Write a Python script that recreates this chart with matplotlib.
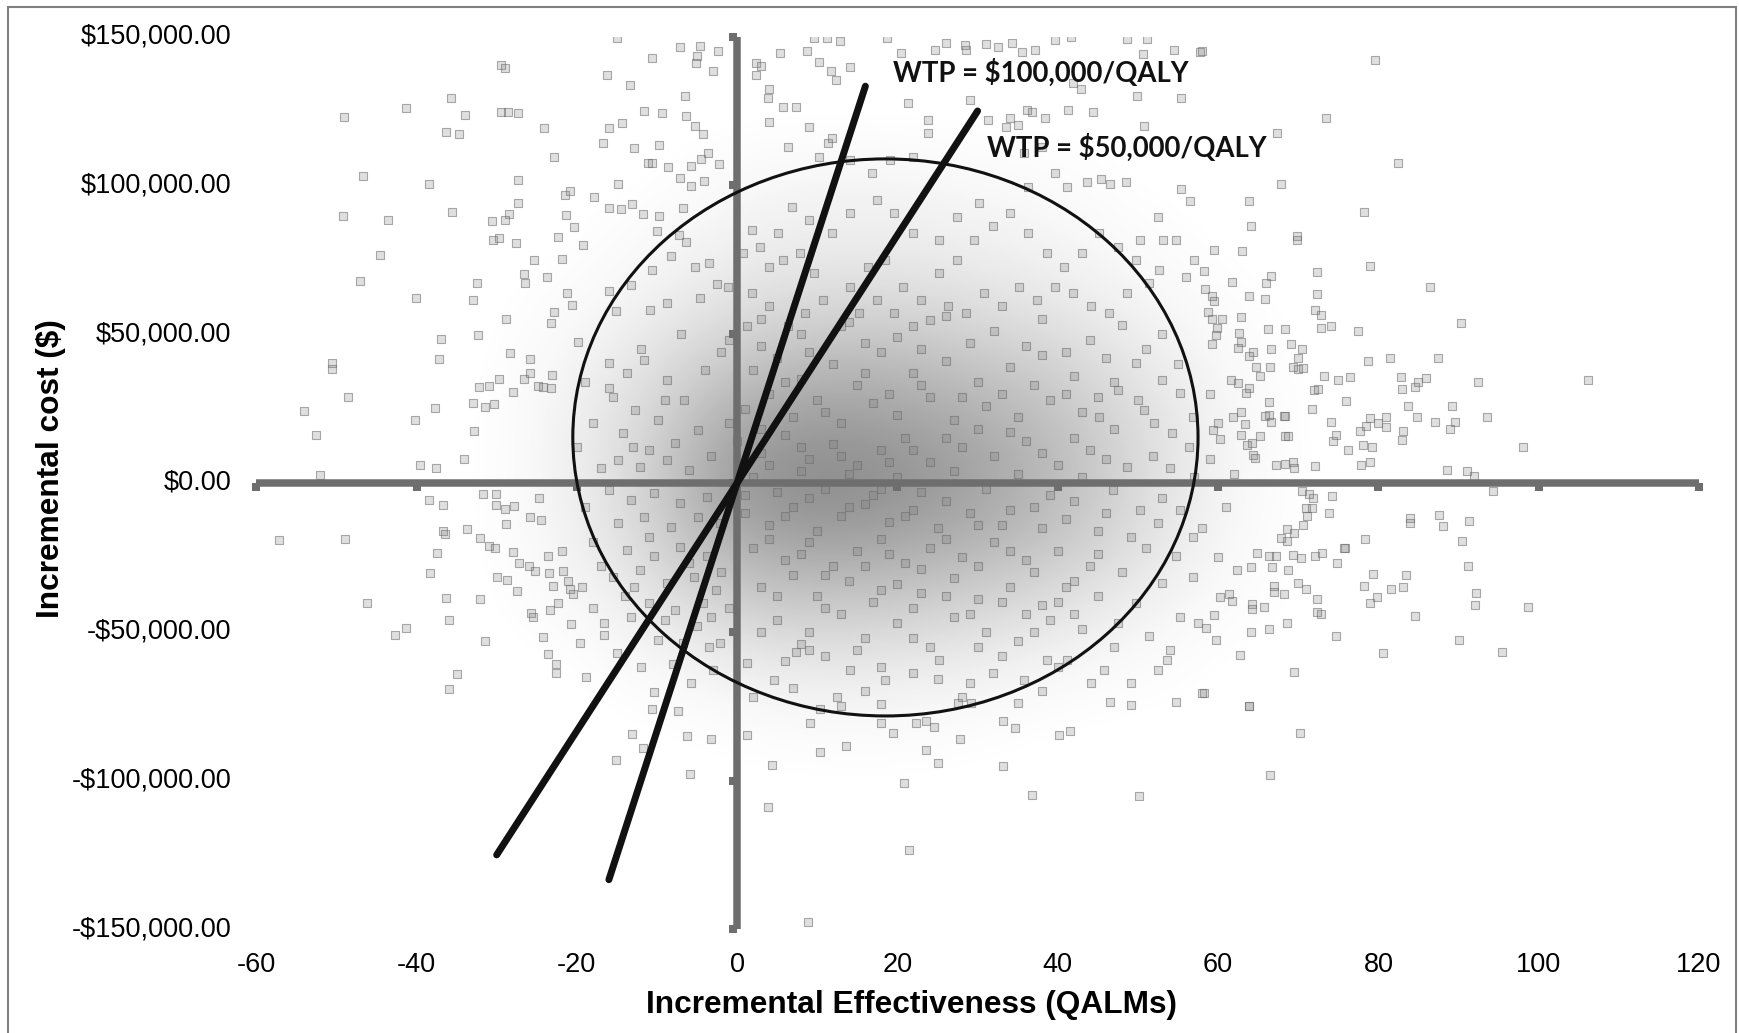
import matplotlib
matplotlib.use("Agg")
import matplotlib.pyplot as plt
import matplotlib.transforms as mtransforms
from matplotlib.patches import Ellipse, Rectangle
from matplotlib.colors import LinearSegmentedColormap
import numpy as np

# bootstrap ICER replicates: (QALMs, cost in $ thousands)
upper_left = [(-29.5,140.3),(-29.0,139.6),(-35.7,129.4),(-41.3,126.1),(-49.0,123.1),(-33.9,123.6),(-29.5,124.6),
    (-28.6,124.6),(-27.4,124.2),(-36.3,118.0),(-34.7,117.4),(-24.1,119.2),(-22.9,109.4),(-46.7,103.2),(-38.4,100.4),
    (-27.4,101.7),(-21.5,96.8),(-20.8,98.0),(-17.8,96.2),(-27.4,94.1),(-28.5,90.5),(-29.0,88.4),(-30.6,87.9),
    (-35.6,90.9),(-49.2,89.7),(-43.5,88.3),(-21.4,90.1),(-20.4,86.0),(-22.3,82.5),(-30.4,81.8),(-29.7,82.3),
    (-27.6,80.6),(-19.2,79.9),(-44.6,76.5),(-25.3,74.8),(-21.8,75.2),(-47.0,67.8),(-32.5,67.1),(-32.9,61.6),
    (-26.6,70.1),(-26.5,67.1),(-23.7,69.2),(-40.1,62.1),(-21.2,63.8),(-20.6,59.8),(-22.9,57.4),(-23.2,53.7),
    (-28.8,55.0),(-36.9,48.4),(-32.3,49.6),(-19.9,47.5)]

mid_left = [(-50.5,40.4),(-50.6,38.2),(-37.2,41.6),(-25.9,41.6),(-28.3,43.8),(-48.5,28.8),(-54.0,24.1),(-52.6,16.0),
    (-37.7,25.1),(-40.2,21.2),(-32.8,17.3),(-32.2,32.2),(-30.9,32.5),(-29.7,35.0),(-33.0,26.8),(-31.5,25.4),
    (-30.3,26.4),(-27.9,30.7),(-26.6,35.0),(-25.9,36.9),(-23.1,36.3),(-24.8,32.6),(-24.2,32.2),(-23.2,31.8),
    (-39.6,6.1),(-37.6,5.0),(-34.1,8.1),(-52.0,2.7)]

lower_left = [(-31.7,-3.6),(-30.1,-3.6),(-38.4,-5.8),(-36.7,-7.5),(-30.1,-7.5),(-28.9,-8.6),(-27.8,-7.8),(-28.8,-13.8),
    (-25.9,-11.3),(-24.5,-12.4),(-24.7,-4.9),(-36.7,-16.3),(-36.5,-17.1),(-33.7,-15.6),(-32.1,-18.5),(-30.9,-21.2),
    (-30.2,-21.7),(-37.4,-23.6),(-27.9,-23.2),(-27.2,-27.0),(-26.0,-27.8),(-25.2,-29.5),(-23.6,-24.4),(-21.8,-22.8),
    (-23.5,-30.1),(-21.7,-29.6),(-38.3,-30.3),(-57.1,-19.1),(-48.9,-18.8),(-29.9,-31.5),(-28.7,-32.6),(-27.5,-36.3),
    (-23.0,-34.5),(-21.1,-33.1),(-20.8,-35.7),(-19.4,-35.0),(-20.5,-37.4),(-46.2,-40.4),(-36.3,-38.5),(-32.1,-38.9),
    (-42.7,-51.1),(-41.3,-48.8),(-36.0,-46.1),(-25.7,-43.8),(-25.5,-45.1),(-23.3,-42.7),(-22.4,-40.4),(-20.7,-47.4),
    (-19.6,-53.9),(-24.2,-51.7),(-31.4,-53.1),(-23.6,-57.4),(-22.6,-61.0),(-22.6,-63.9),(-34.9,-64.1),(-35.9,-69.2),
    (-18.9,-65.1)]

near_left = [(-16.0,40.2),(-13.8,36.9),(-11.6,41.3),(-8.8,34.6),(-15.5,29.0),(-12.7,24.5),(-9.9,21.2),(-6.6,27.9),
    (-14.3,16.7),(-11.0,11.1),(-7.7,13.3),(-4.9,17.8),(-14.9,7.7),(-12.1,5.5),(-8.8,7.7),(-6.0,4.4),(-3.2,8.9),
    (-16.0,-2.3),(-13.2,-5.7),(-10.4,-3.5),(-7.1,-6.8),(-3.8,-4.6),(-14.9,-13.5),(-11.6,-11.3),(-8.2,-14.7),
    (-4.9,-11.3),(-2.1,-13.5),(-13.8,-22.5),(-10.4,-24.7),(-7.1,-21.4),(-3.8,-24.7),(-15.5,-31.5),(-12.1,-29.2),
    (-8.8,-33.7),(-5.4,-31.5),(-2.6,-36.0),(-11.0,-40.4),(-7.7,-42.7),(-4.3,-40.4),(-16.6,-47.1),(-16.6,-51.1),
    (-13.2,-44.9),(-12.9,-34.8),(-9.9,-52.7),(-10.4,-70.1),(-6.8,-53.9),(-5.7,-67.3),(-3.5,-55.0),(-3.2,-44.9),
    (-2.1,-53.9)]

top_band = [(-15.0,149.5),(-7.1,146.5),(-4.6,147.0),(-2.4,145.2),(-5.1,141.2),(-5.0,143.6),(-10.6,142.8),(-3.0,138.6),
    (-16.2,137.1),(-13.4,133.6),(-6.5,130.2),(-11.6,125.0),(-9.4,124.2),(-6.4,123.3),(-14.4,120.9),(-16.0,119.2),
    (-16.7,114.1),(-5.3,120.1),(-4.3,117.1),(-12.9,112.6),(-9.7,113.7),(-11.1,107.4),(-10.6,107.6),(-8.6,106.3),
    (-5.7,106.6),(-3.6,110.8),(-2.2,107.2),(2.4,141.0),(3.0,140.2),(5.3,144.4),(8.7,145.2),(9.6,149.5),(11.2,149.5),
    (12.8,148.6),(10.2,141.5),(11.7,138.4),(12.3,135.3),(14.1,139.9),(18.7,149.5),(20.5,144.4),(24.7,145.5),
    (26.0,147.7),(28.4,147.1),(28.6,145.4),(31.0,147.6),(32.6,146.6),(34.3,147.7),(39.7,148.9),(41.7,149.8),
    (48.6,149.3),(51.1,149.2),(54.5,145.5),(57.8,144.9),(35.5,144.8),(37.2,145.5),(50.6,144.1),(41.9,134.3),
    (42.9,132.3),(49.9,130.2),(55.4,129.2),(50.7,120.1),(36.2,125.2),(36.8,124.6),(41.3,125.4),(44.4,124.6),
    (34.0,122.7),(35.0,120.3),(38.4,122.7),(45.4,102.1),(46.5,100.4),(48.5,101.3),(55.4,98.9),(56.5,94.7),
    (53.1,81.6),(52.6,71.4),(56.0,69.3)]

near_axis_up = [(-14.9,100.4),(-16.0,92.3),(-14.5,91.9),(-13.1,93.8),(-11.8,90.4),(-9.8,89.6),(-7.1,102.4),(-5.7,99.8),
    (-4.1,101.6),(-4.5,108.8),(-6.8,92.4),(-10.0,84.6),(-7.3,83.3),(-6.4,81.0),(-8.2,76.3),(-10.6,71.4),(-13.3,66.4),
    (-16.0,64.6),(-15.1,57.8),(-10.9,58.2),(-8.7,60.4),(-4.6,62.1),(-2.5,67.0),(-1.1,65.8),(-3.5,73.8),(-5.2,72.7)]

inner_upper = [(2.4,137.1),(4.0,132.3),(3.8,129.2),(5.7,126.2),(7.4,126.5),(4.0,121.4),(6.3,113.0),(9.0,119.7),
    (11.3,114.2),(10.2,109.7),(11.8,115.8),(14.1,108.6),(16.8,104.1),(19.1,108.6),(21.9,109.7),(23.8,122.0),
    (23.8,117.5),(21.3,127.6),(29.1,128.7),(31.3,122.0),(33.5,119.7),(35.8,110.8),(38.0,113.0),(39.7,104.1),
    (41.1,99.6),(43.6,101.3),(36.3,99.6),(30.2,94.0),(27.4,89.5),(25.2,81.7),(21.9,83.9),(19.6,90.6),(17.4,95.1),
    (14.1,90.6),(11.8,83.9),(9.0,88.4),(6.8,92.9),(5.1,83.9),(2.9,79.4),(1.8,85.0),(0.7,77.2),(4.0,72.7),(5.7,74.9),
    (7.9,77.2),(9.6,70.5),(14.1,66.0),(16.3,72.7),(18.5,74.9),(20.7,66.0),(23.0,61.5),(25.2,70.5),(27.4,74.9),
    (29.6,81.7),(31.9,86.2),(34.1,90.6),(36.3,83.9),(38.6,77.2),(40.8,72.7),(43.0,77.2),(45.2,83.9),(47.5,79.4),
    (49.7,74.9),(51.4,67.1),(48.6,63.7),(46.4,57.0),(44.1,59.3),(41.9,63.7),(39.7,66.0),(37.4,61.5),(35.2,66.0),
    (33.0,59.3),(30.8,63.7),(28.5,57.0),(26.3,59.3),(24.1,54.8),(21.9,52.6),(19.6,57.0),(17.4,61.5),(15.2,57.0),
    (13.0,52.6),(10.7,61.5),(8.5,57.0),(6.3,52.6),(4.0,59.3),(1.8,63.7),(1.2,52.6),(52.5,89.5),(54.7,81.7),
    (57.0,74.9),(50.3,81.7)]

upper_right = [(58.0,145.2),(79.6,142.2),(73.5,122.8),(67.4,117.7),(82.5,107.5),(67.8,100.6),(63.9,94.8),(78.2,91.1),
    (64.1,86.4),(69.9,83.0),(69.9,81.7),(59.5,78.4),(63.0,77.8),(79.0,72.9),(58.3,71.3),(72.3,71.0),(66.6,69.7),
    (66.0,67.1),(61.8,67.4),(86.5,65.8),(58.4,65.3),(59.3,62.9),(59.5,61.0),(63.9,62.7),(65.9,61.7),(72.3,63.5),
    (58.8,57.4),(59.2,55.0),(60.5,55.1),(62.9,55.9),(72.1,58.1),(72.8,56.4),(90.3,53.7),(66.2,51.9),(68.3,51.8),
    (72.9,52.2),(74.1,52.6),(77.4,51.2),(59.9,52.0),(59.7,49.7),(62.6,50.3),(62.8,47.5),(59.3,46.7),(62.5,45.4),
    (64.4,43.9),(63.9,42.5),(66.6,44.9),(69.1,46.7),(70.5,44.9),(70.0,42.1),(78.7,40.9),(81.4,41.9),(87.4,41.9),
    (64.7,38.8),(66.5,39.1),(65.2,35.9),(69.3,39.1),(70.0,38.2),(70.6,38.7),(73.2,36.1),(75.0,34.7),(76.4,35.7),
    (82.8,35.7),(82.9,31.5),(84.6,32.4),(85.0,34.0),(85.9,35.4),(92.4,34.0),(106.1,34.6),(61.6,34.6),(62.5,33.5),
    (63.9,31.8),(63.5,30.2),(72.0,31.3),(72.5,31.5),(66.4,27.1),(71.7,25.0),(75.9,27.5),(83.7,25.7),(89.2,26.0),
    (93.5,22.3),(61.9,22.2),(62.9,23.8),(63.3,19.8),(65.8,22.5),(66.3,23.0),(66.6,20.6),(68.2,22.5),(68.4,22.6),
    (74.1,20.4),(77.7,17.6),(78.5,19.3),(79.0,21.7),(79.9,20.1),(81.0,22.3),(81.0,18.7),(83.1,17.6),(82.9,14.6),
    (84.8,22.0),(87.1,20.5),(89.5,20.4),(88.9,18.1),(74.4,14.1),(74.7,16.1),(76.2,11.1),(78.1,12.6),(79.2,12.2),
    (77.8,6.0),(78.9,7.0),(98.1,12.1),(88.5,4.5),(91.0,4.1),(91.9,2.5),(62.9,16.2),(65.2,15.8),(68.3,15.8),
    (68.7,15.8),(60.3,14.7),(59.4,17.7),(63.6,12.8),(64.2,13.4),(64.4,9.4),(64.6,8.3),(67.2,6.1),(68.4,6.3),
    (69.3,6.9),(69.5,5.1),(72.1,5.6)]

lower_right = [(94.3,-2.7),(74.2,-4.4),(73.8,-10.2),(70.5,-2.6),(71.3,-3.8),(71.8,-5.1),(71.0,-8.3),(71.7,-8.3),
    (71.1,-11.0),(70.6,-14.1),(69.5,-16.7),(68.6,-15.6),(68.6,-19.5),(67.9,-18.4),(78.3,-18.8),(75.8,-21.7),
    (74.9,-26.9),(84.0,-11.9),(83.9,-13.3),(87.6,-10.9),(88.0,-14.4),(91.3,-12.7),(90.4,-19.6),(91.2,-27.9),
    (79.3,-30.5),(78.2,-34.5),(81.6,-35.6),(83.1,-34.8),(83.4,-30.9),(79.8,-38.2),(79.0,-40.3),(92.2,-37.1),
    (92.1,-41.1),(98.7,-41.8),(84.6,-44.7),(72.4,-39.0),(72.3,-43.3),(72.9,-44.0),(70.0,-33.5),(71.0,-35.6),
    (74.7,-51.3),(90.0,-52.7),(80.6,-57.2),(95.4,-56.8),(68.6,-46.9),(66.3,-49.2),(64.1,-50.2),(59.7,-52.7),
    (62.7,-57.9),(69.5,-63.4),(58.3,-70.7),(63.8,-74.9),(70.2,-84.1),(66.5,-98.3),(65.7,-41.8),(64.2,-40.6),
    (64.2,-42.4),(59.5,-44.4),(58.5,-48.8),(64.1,-28.3),(66.7,-28.3),(68.7,-29.4),(62.3,-29.3),(64.9,-23.6),
    (66.3,-24.7),(67.2,-24.6),(69.3,-24.3),(70.3,-25.1),(72.1,-24.6),(73.0,-23.4),(75.7,-21.7),(67.0,-34.5),
    (68.2,-37.4),(67.0,-36.7),(61.4,-37.3),(60.2,-38.2),(61.7,-39.6)]

near_right = [(49.7,40.2),(53.0,34.6),(55.3,30.1),(56.9,22.3),(54.2,16.7),(51.9,8.9),(56.4,12.2),(55.3,-9.1),
    (56.9,-18.0),(54.7,-24.7),(53.0,-33.7),(49.7,-40.4),(47.5,-47.1),(56.9,-31.5),(52.5,-13.5),(49.1,-18.0),
    (50.3,-9.1),(46.9,-2.3),(48.6,5.5),(50.8,24.5),(47.5,31.3),(45.2,22.3)]

bottom_band = [(-10.6,-76.1),(-7.4,-76.8),(-13.1,-84.5),(-11.7,-89.2),(-15.1,-93.2),(-6.2,-85.0),(-3.2,-85.9),
    (-5.9,-97.8),(1.2,-84.8),(4.4,-94.7),(3.8,-108.8),(10.4,-90.3),(13.6,-88.4),(9.1,-80.8),(10.3,-76.1),
    (13.0,-74.9),(18.0,-74.3),(17.9,-80.8),(19.5,-84.1),(22.3,-80.8),(23.6,-80.1),(24.5,-81.9),(23.6,-89.9),
    (25.1,-94.2),(20.8,-100.7),(27.8,-85.9),(27.5,-74.0),(29.2,-74.0),(33.2,-79.9),(34.7,-82.3),(33.2,-95.0),
    (35.0,-74.0),(36.8,-104.8),(40.2,-84.8),(41.5,-83.4),(46.5,-73.6),(49.1,-74.6),(50.1,-105.3),(54.8,-73.5),
    (63.8,-74.9),(21.5,-123.5),(8.8,-147.7),(1.2,-60.6),(4.6,-66.2),(7.4,-56.7),(9.0,-56.1),(14.1,-62.8),
    (12.4,-71.8),(18.5,-66.2),(21.9,-64.0),(25.2,-59.5),(29.1,-67.3),(31.9,-64.0),(35.8,-66.2),(38.6,-59.5),
    (41.1,-59.5),(44.1,-67.3),(45.8,-62.8),(49.1,-67.3),(53.6,-59.5),(52.5,-62.8),(58.0,-70.7),(51.4,-51.6),
    (55.3,-44.9),(57.5,-47.1)]

core = [(2,38),(5,42),(8,35),(12,40),(15,33),(18,44),(22,37),(26,41),(30,34),(34,39),(38,43),(42,36),
    (1,25),(4,30),(7,22),(10,28),(13,20),(17,27),(20,23),(24,29),(27,21),(31,26),(35,22),(39,28),(43,24),(47,18),
    (0,14),(3,10),(6,16),(9,8),(12,13),(15,6),(18,11),(21,15),(24,7),(28,12),(32,9),(36,14),(40,6),(44,11),
    (2,2),(5,-3),(8,4),(11,-2),(14,3),(17,-4),(20,2),(23,-3),(27,4),(31,-2),(35,3),(39,-4),(43,2),
    (1,-10),(4,-14),(7,-8),(10,-16),(13,-11),(16,-7),(19,-13),(22,-9),(25,-15),(29,-10),(33,-14),(37,-8),(41,-12),
    (45,-16),(2,-22),(6,-26),(9,-20),(12,-28),(15,-23),(18,-19),(21,-27),(24,-22),(28,-25),(32,-20),(36,-26),
    (40,-23),(44,-28),(3,-35),(7,-31),(10,-38),(14,-33),(17,-40),(20,-34),(23,-37),(27,-32),(30,-39),(34,-35),
    (38,-41),(42,-33),(5,-46),(9,-50),(13,-44),(16,-52),(20,-47),(24,-55),(27,-45),(31,-50),(35,-53),(39,-46),
    (43,-49),(6,-60),(11,-58),(18,-62),(25,-66),(33,-58),(40,-62),(-1,48),(3,55),(8,50),(14,54),(20,49),(26,56),
    (32,51),(38,55),(44,48),(48,53)]

ring = [(-18,20),(-17,5),(-19,-8),(-18,-20),(-16,32),(-13,12),(-11,-18),(-9,28),(-6,-27),(-4,38),(-2,-30),
    (-1,20),(-14,-38),(-9,-46),(-5,-48),(-1,-42),(-12,45),(-7,50),(-2,44),(3,46),(9,44),(16,47),(23,45),(29,47),
    (36,46),(41,44),(46,42),(51,45),(53,50),(55,40),(47,34),(50,28),(52,20),(54,5),(53,-5),(51,-22),(48,-30),
    (45,-38),(42,-44),(37,-50),(30,-55),(22,-52),(15,-56),(8,-54),(3,-50),(3,18),(6,34),(11,24),(16,37),(19,30),
    (23,33),(28,29),(33,30),(37,33),(41,30),(45,29),(4,6),(8,12),(13,9),(19,7),(22,11),(26,15),(30,18),(34,17),
    (38,10),(42,15),(46,8),(1,-4),(6,-11),(9,-5),(14,-8),(18,-2),(21,-11),(26,-6),(30,-14),(34,-9),(38,-15),
    (42,-6),(46,-10),(4,-19),(8,-24),(11,-31),(16,-28),(19,-24),(23,-29),(26,-19),(30,-28),(34,-23),(37,-30),
    (41,-35),(45,-24),(5,-38),(11,-42),(18,-36),(22,-42),(26,-38),(29,-44),(33,-40),(36,-44),(40,-40),(-19,34),
    (-17,-28),(-20,12),(-18,-42),(-15,-57),(-12,-62),(-8,-61),(-3,-63),(2,-72),(7,-69),(16,-70),(28,-72),
    (38,-70),(47,-55),(54,-56),(57,2),(58,-15),(59,30),(60,-25),(59,8),(61,-8),(62,3),(60,20)]

# shading of the overlapping cloud, read as opacity of the grey mass
cloud_x = [-30, -20, -10, 0, 10, 20, 30, 40, 50, 60, 70]
cloud_y = [120, 100, 80, 60, 40, 20, 0, -20, -40, -60, -80, -100]
cloud_level = [
    [0, 0,    0,    0,    0,    0,    0,    0,    0,    0,    0],
    [0, 0,    0,    0.05, 0.08, 0.08, 0.05, 0.03, 0,    0,    0],
    [0, 0,    0.05, 0.12, 0.15, 0.15, 0.12, 0.08, 0.03, 0,    0],
    [0, 0.03, 0.12, 0.25, 0.30, 0.30, 0.25, 0.18, 0.08, 0.02, 0],
    [0, 0.08, 0.25, 0.45, 0.55, 0.55, 0.45, 0.35, 0.18, 0.05, 0],
    [0, 0.12, 0.35, 0.70, 0.80, 0.75, 0.65, 0.50, 0.28, 0.08, 0],
    [0, 0.12, 0.40, 0.85, 0.95, 0.90, 0.75, 0.55, 0.30, 0.08, 0],
    [0, 0.10, 0.35, 0.65, 0.75, 0.70, 0.60, 0.45, 0.25, 0.06, 0],
    [0, 0.05, 0.20, 0.40, 0.45, 0.42, 0.35, 0.25, 0.12, 0.03, 0],
    [0, 0,    0.06, 0.15, 0.20, 0.18, 0.14, 0.08, 0.03, 0,    0],
    [0, 0,    0,    0.02, 0.04, 0.04, 0.02, 0,    0,    0,    0],
    [0, 0,    0,    0,    0,    0,    0,    0,    0,    0,    0],
]

# 95% confidence ellipse (centre, full width in QALMs, full height in $)
ell_center = (18.5, 15300)
ell_width = 78
ell_height = 187200

# willingness-to-pay thresholds ($/QALY) and their drawn half-range in QALMs
wtp_values = [100000, 50000]
wtp_reach = [16, 30]
wtp_labels = ["WTP = $100,000/QALY", "WTP = $50,000/QALY"]
wtp_label_pos = [(19.4, 137800), (31.2, 112500)]

x_ticks = [-60, -40, -20, 0, 20, 40, 60, 80, 100, 120]
y_ticks = [-150000, -100000, -50000, 0, 50000, 100000, 150000]

W, H = 1739, 1033
fig = plt.figure(figsize=(W / 100, H / 100), dpi=100)
ax = fig.add_axes([256.2 / W, 1 - 929.3 / H, (1699 - 256.2) / W, (929.3 - 36.6) / H])

cmap = LinearSegmentedColormap.from_list("cloud", [(0.47, 0.47, 0.47, 0.0), (0.47, 0.47, 0.47, 0.92)])
dx = (cloud_x[1] - cloud_x[0]) / 2
dy = (cloud_y[0] - cloud_y[1]) / 2 * 1000
ax.imshow(np.array(cloud_level), cmap=cmap, vmin=0, vmax=1, interpolation="bicubic", aspect="auto",
          extent=[cloud_x[0] - dx, cloud_x[-1] + dx, cloud_y[-1] * 1000 - dy, cloud_y[0] * 1000 + dy],
          zorder=1)

pts = np.array(upper_left + mid_left + lower_left + near_left + top_band + near_axis_up + inner_upper
               + upper_right + lower_right + near_right + bottom_band + core + ring, dtype=float)
ax.scatter(pts[:, 0], pts[:, 1] * 1000, marker="s", s=36,
           facecolors=[(0.5, 0.5, 0.5, 0.25)], edgecolors=[(0.42, 0.42, 0.42, 0.55)],
           linewidths=0.8, zorder=2)

ax.set_xlim(-60, 120)
ax.set_ylim(-150000, 150000)

# axes crossing at the origin, Excel style
axis_grey = "#6e6e6e"
for side in ["top", "right"]:
    ax.spines[side].set_visible(False)
for side in ["left", "bottom"]:
    ax.spines[side].set_position(("data", 0))
    ax.spines[side].set_linewidth(5.4)
    ax.spines[side].set_color(axis_grey)
    ax.spines[side].set_capstyle("butt")
ax.set_xticks(x_ticks)
ax.set_yticks(y_ticks)
ax.tick_params(axis="both", direction="out", length=6, width=5.8, color=axis_grey,
               labelbottom=False, labelleft=False)

tick_font = dict(family=["Liberation Sans", "DejaVu Sans"], fontsize=19.5, color="black")
bx = mtransforms.blended_transform_factory(ax.transData, ax.transAxes)
for v in x_ticks:
    ax.text(v, -0.040, str(v), transform=bx, ha="center", va="center", **tick_font)
by = mtransforms.blended_transform_factory(ax.transAxes, ax.transData)
for v in y_ticks:
    lab = f"${abs(v):,.2f}" if v >= 0 else f"-${abs(v):,.2f}"
    ax.text(-0.0171, v, lab, transform=by, ha="right", va="center", **tick_font)

ax.add_patch(Ellipse(ell_center, ell_width, ell_height, fill=False, ec="#111111", lw=2.2, zorder=4))

for wtp, reach in zip(wtp_values, wtp_reach):
    xs = np.array([-reach, reach], dtype=float)
    ax.plot(xs, xs * wtp / 12, color="#111111", lw=5.0, solid_capstyle="round", zorder=5)

for lab, (lx, ly) in zip(wtp_labels, wtp_label_pos):
    ax.text(lx, ly, lab, ha="left", va="center", fontsize=19.8, fontweight="bold",
            family=["Lato", "DejaVu Sans"], color="#111111", zorder=6)

title_font = dict(family=["Liberation Sans", "DejaVu Sans"], fontsize=22.8, fontweight="bold")
fig.text(912 / W, 1 - 1005 / H, "Incremental Effectiveness (QALMs)", ha="center", va="center", **title_font)
fig.text(51 / W, 1 - 469 / H, "Incremental cost ($)", rotation=90, ha="center", va="center", **title_font)

fig.patches.append(Rectangle((8 / W, -0.01), (1736 - 8) / W, 1.01 - 7 / H, transform=fig.transFigure,
                             fill=False, ec="#808080", lw=1.5, zorder=0))

fig.savefig("out.png", dpi=100)
